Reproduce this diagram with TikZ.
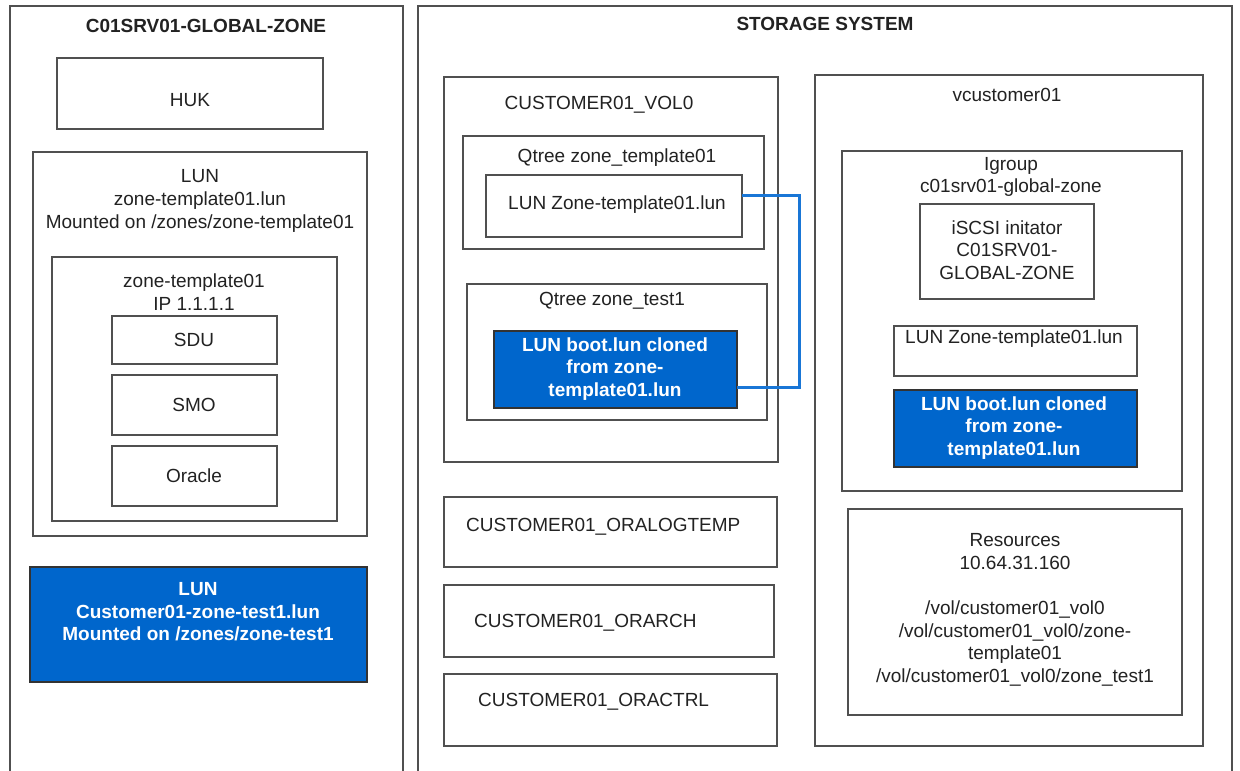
\documentclass[tikz,border=0pt]{standalone}
\usepackage{fontspec}
\setmainfont{Liberation Sans}
\usetikzlibrary{calc}
\definecolor{lunblue}{RGB}{0,102,204}
\definecolor{linkblue}{RGB}{25,118,214}
\definecolor{edgegray}{RGB}{80,80,80}
\definecolor{txt}{RGB}{34,34,34}
\tikzset{
 box/.style={draw=edgegray, line width=1.3pt, fill=white, anchor=north west, inner sep=0pt, outer sep=0pt},
 bluebox/.style={box, fill=lunblue, draw=black!80},
 lbl/.style={text=txt, font=\fontsize{19}{22.6}\selectfont, align=center, inner sep=0pt},
 wlbl/.style={lbl, text=white, font=\fontsize{19}{22.6}\selectfont\bfseries},
 ttl/.style={lbl, font=\fontsize{19}{22.6}\selectfont\bfseries},
 conn/.style={draw=linkblue, line width=3pt},
}
\begin{document}
\begin{tikzpicture}[x=1pt,y=-1pt]
\useasboundingbox[fill=white] (0,0) rectangle (1240,771);
% outer containers
\node[box, minimum width=393pt, minimum height=774pt] (leftzone) at (10,6) {};
\node[box, minimum width=814pt, minimum height=774pt] (storage) at (418,6) {};
\node[ttl] (lefttitle) at (206,26) {C01SRV01-GLOBAL-ZONE};
\node[ttl] (storagetitle) at (825,24) {STORAGE SYSTEM};
% left side
\node[box, minimum width=266pt, minimum height=71pt] (huk) at (57,58) {};
\node[lbl] (huktxt) at (190,100) {HUK};
\node[box, minimum width=334pt, minimum height=384pt] (luna) at (33,152) {};
\node[lbl] (lunatxt) at (200,201) {LUN\\zone-template01.lun\\Mounted on /zones/zone-template01};
\node[box, minimum width=285pt, minimum height=264pt] (zt) at (52,257) {};
\node[lbl] (zttxt) at (194,292) {zone-template01\\IP 1.1.1.1};
\node[box, minimum width=165pt, minimum height=48pt] (sdu) at (112,316) {};
\node[lbl] (sdutxt) at (194,340) {SDU};
\node[box, minimum width=165pt, minimum height=60pt] (smo) at (112,375) {};
\node[lbl] (smotxt) at (194,405) {SMO};
\node[box, minimum width=165pt, minimum height=60pt] (ora) at (112,446) {};
\node[lbl] (oratxt) at (194,476) {Oracle};
\node[bluebox, minimum width=337pt, minimum height=115pt] (bluel) at (30,567) {};
\node[wlbl] (blueltxt) at (198,612) {LUN\\Customer01-zone-test1.lun\\Mounted on /zones/zone-test1};
% storage: volume 0
\node[box, minimum width=334pt, minimum height=385pt] (vol0) at (444,77) {};
\node[lbl] (vol0txt) at (599,105) {CUSTOMER01\_VOL0};
\node[box, minimum width=301pt, minimum height=113pt] (qt1) at (463,136) {};
\node[lbl] (qt1txt) at (617,158) {Qtree zone\_template01};
\node[box, minimum width=256pt, minimum height=62pt] (tpl) at (486,175) {};
\node[lbl] (tpltxt) at (617,205) {LUN Zone-template01.lun};
\node[box, minimum width=300pt, minimum height=136pt] (qt2) at (467,284) {};
\node[lbl] (qt2txt) at (612,301) {Qtree zone\_test1};
\node[bluebox, minimum width=243pt, minimum height=77pt] (boot) at (494,331) {};
\node[wlbl] (boottxt) at (615,369) {LUN boot.lun cloned\\from zone-\\template01.lun};
% other volumes
\node[box, minimum width=333pt, minimum height=70pt] (olt) at (444,497) {};
\node[lbl, anchor=west] (olttxt) at (466,527) {CUSTOMER01\_ORALOGTEMP};
\node[box, minimum width=330pt, minimum height=72pt] (oar) at (444,585) {};
\node[lbl, anchor=west] (oartxt) at (474,623) {CUSTOMER01\_ORARCH};
\node[box, minimum width=333pt, minimum height=72pt] (octl) at (444,674) {};
\node[lbl, anchor=west] (octltxt) at (478,702) {CUSTOMER01\_ORACTRL};
% vserver
\node[box, minimum width=388pt, minimum height=671pt] (vc) at (815,75) {};
\node[lbl] (vctxt) at (1007,95) {vcustomer01};
\node[box, minimum width=340pt, minimum height=340pt] (ig) at (842,151) {};
\node[lbl] (igtxt) at (1011,177) {Igroup\\c01srv01-global-zone};
\node[box, minimum width=174pt, minimum height=95pt] (isc) at (920,204) {};
\node[lbl] (isctxt) at (1007,250) {iSCSI initator\\C01SRV01-\\GLOBAL-ZONE};
\node[box, minimum width=243pt, minimum height=50pt] (rlun) at (894,326) {};
\node[lbl] (rluntxt) at (1014,339) {LUN Zone-template01.lun};
\node[bluebox, minimum width=243pt, minimum height=77pt] (rblue) at (894,390) {};
\node[wlbl] (rbluetxt) at (1014,428) {LUN boot.lun cloned\\from zone-\\template01.lun};
\node[box, minimum width=334pt, minimum height=206pt] (res) at (848,509) {};
\node[lbl] (restxt) at (1015,610) {Resources\\10.64.31.160\\[22.6pt]/vol/customer01\_vol0\\/vol/customer01\_vol0/zone-\\template01\\/vol/customer01\_vol0/zone\_test1};
% clone link
\coordinate (bendA) at (799,195);
\coordinate (bendB) at (799,387);
\draw[conn] (tpl.east |- bendA) -- (bendA) -- (bendB) -- (bendB -| boot.east);
\end{tikzpicture}
\end{document}
